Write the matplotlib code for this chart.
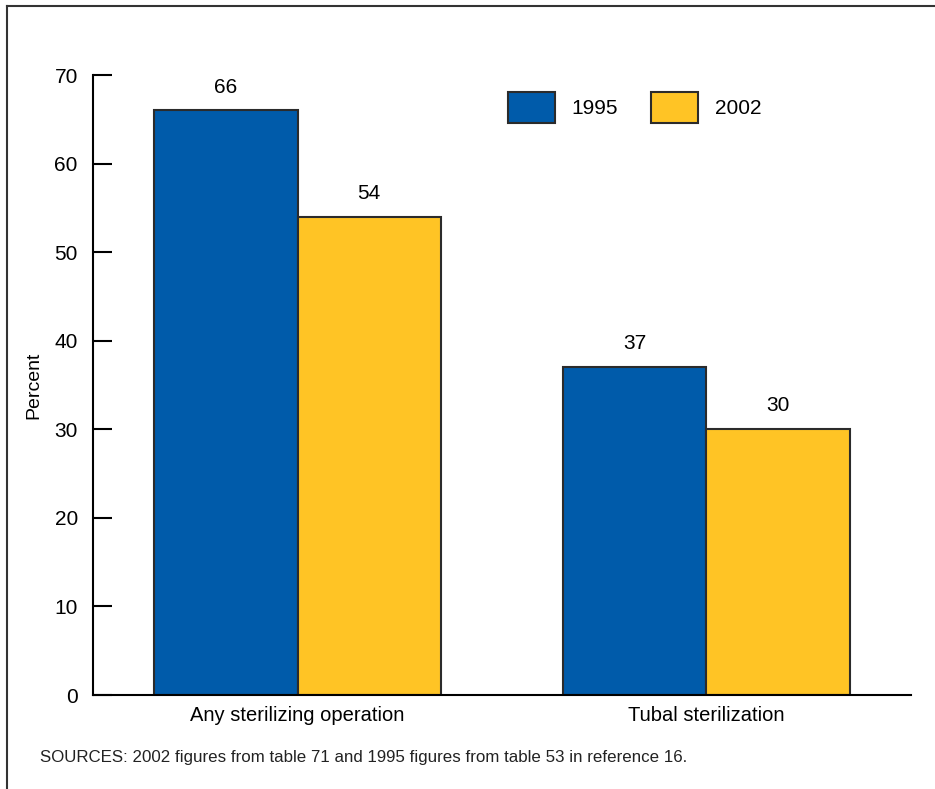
import matplotlib.pyplot as plt
from matplotlib.lines import Line2D
import numpy as np

plt.rcParams['font.family'] = ['Liberation Sans', 'DejaVu Sans']

categories = ["Any sterilizing operation", "Tubal sterilization"]
years = ["1995", "2002"]
values_1995 = [66, 37]
values_2002 = [54, 30]
colors = ["#005BAA", "#FFC425"]

fig = plt.figure(figsize=(9.35, 7.89), dpi=100)
ax = fig.add_axes([0.0995, 0.1191, 0.8748, 0.7858])

x = np.arange(len(categories))
w = 0.35
b1 = ax.bar(x - w / 2, values_1995, w, color=colors[0], edgecolor="#2b2b2b", linewidth=1.5, label=years[0], zorder=2)
b2 = ax.bar(x + w / 2, values_2002, w, color=colors[1], edgecolor="#2b2b2b", linewidth=1.5, label=years[1], zorder=2)

for bars, vals in [(b1, values_1995), (b2, values_2002)]:
    for rect, v in zip(bars, vals):
        ax.annotate(str(v), (rect.get_x() + rect.get_width() / 2, v),
                    xytext=(0, 10), textcoords="offset points",
                    ha="center", va="bottom", fontsize=15)

ax.set_xlim(-0.5, 1.5)
ax.set_ylim(0, 70)
ax.set_yticks(range(0, 71, 10))
ax.set_xticks(x)
ax.set_xticklabels(categories, fontsize=14.5)
ax.tick_params(axis="y", direction="in", length=14, width=1.5, pad=11, labelsize=15)
ax.tick_params(axis="x", length=0, pad=8)
for s in ["top", "right"]:
    ax.spines[s].set_visible(False)
for s in ["left", "bottom"]:
    ax.spines[s].set_linewidth(1.5)
ax.set_ylabel("Percent", fontsize=14)
ax.yaxis.set_label_coords(-0.062, 0.5)

ax.legend(loc="upper left", bbox_to_anchor=(0.507, 0.972), ncol=2, frameon=False,
          fontsize=15, handlelength=2.25, handleheight=1.85, handletextpad=0.8,
          columnspacing=1.6, borderpad=0, borderaxespad=0)

fig.text(0.043, 0.034, "SOURCES: 2002 figures from table 71 and 1995 figures from table 53 in reference 16.",
         fontsize=12.2, ha="left", va="baseline", color="#222222")

# outer frame (left and top edges)
fig.add_artist(Line2D([0.0075, 0.0075], [0.0, 0.992], color="#333333", linewidth=1.5))
fig.add_artist(Line2D([0.0075, 1.0], [0.992, 0.992], color="#333333", linewidth=1.5))

fig.savefig("out.png", dpi=100)
